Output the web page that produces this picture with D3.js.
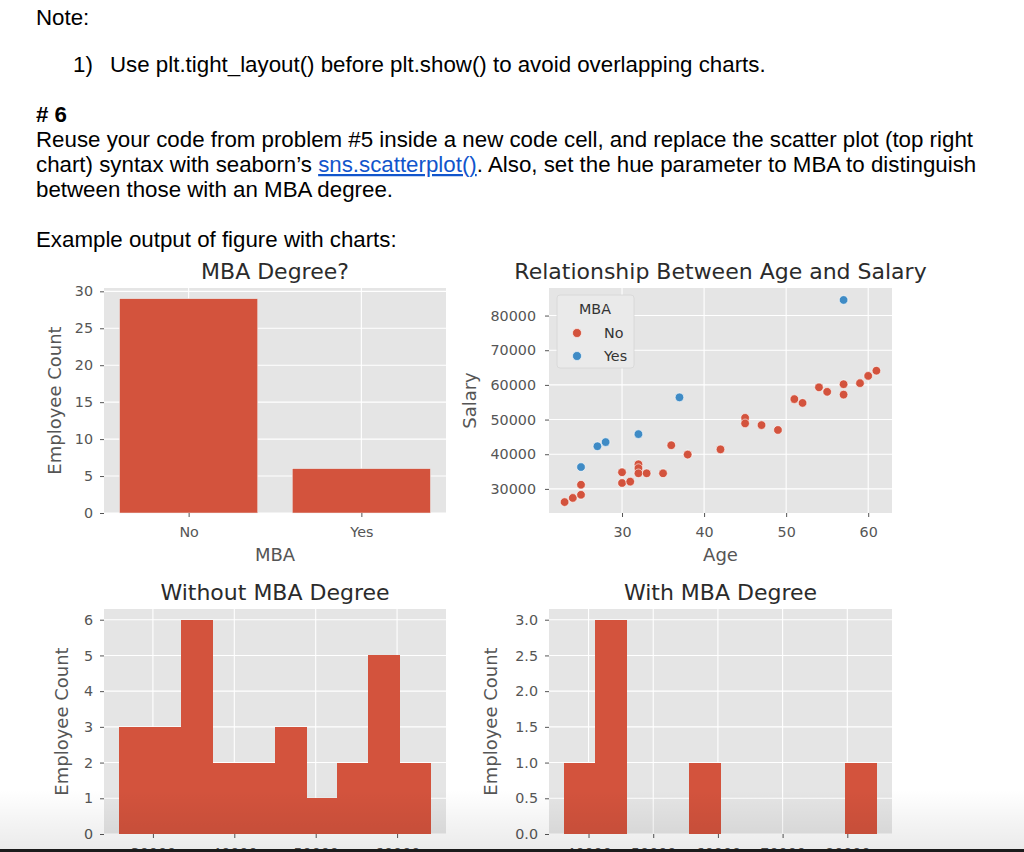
<!DOCTYPE html>
<html>
<head>
<meta charset="utf-8">
<script src="https://cdn.jsdelivr.net/npm/d3@7"></script>
<style>
  html,body{margin:0;padding:0;background:#fff;}
  svg{display:block;}
</style>
</head>
<body>
<svg id="fig" width="1024" height="852"></svg>
<script>
// ---------------- DATA ----------------
const mbaCategories = ["No", "Yes"];
const mbaCounts = [29, 6];

const ageNo    = [23, 24, 25, 25, 30, 30, 31, 32, 32, 32, 33, 35, 36, 38, 38, 42, 45, 45, 47, 49, 51, 52, 54, 55, 57, 57, 59, 60, 61];
const salaryNo = [26200, 27400, 28300, 31200, 34800, 31700, 32100, 37100, 36000, 34500, 34500, 34500, 42600, 40000, 39900, 41400, 50500, 48900, 48400, 47000, 55900, 54800, 59300, 58000, 60200, 57200, 60500, 62600, 64100];
const ageYes    = [25, 27, 28, 32, 37, 57];
const salaryYes = [36300, 42300, 43500, 45800, 56400, 84500];

const noBinEdges  = [25900, 29720, 33540, 37360, 41180, 45000, 48820, 52640, 56460, 60280, 64100];
const noBinCounts = [3, 3, 6, 2, 2, 3, 1, 2, 5, 2];
const yesBinEdges  = [36300, 41120, 45940, 50760, 55580, 60400, 65220, 70040, 74860, 79680, 84500];
const yesBinCounts = [1, 3, 0, 0, 1, 0, 0, 0, 0, 1];

const barYTicks = [0, 5, 10, 15, 20, 25, 30];
const ageTicks = [30, 40, 50, 60];
const salaryTicks = [30000, 40000, 50000, 60000, 70000, 80000];
const noHistXTicks = [30000, 40000, 50000, 60000];
const noHistYTicks = [0, 1, 2, 3, 4, 5, 6];
const yesHistXTicks = [40000, 50000, 60000, 70000, 80000];
const yesHistYTicks = [0, 0.5, 1.0, 1.5, 2.0, 2.5, 3.0];

// ---------------- STYLE ----------------
const RED = "#d3533d", BLUE = "#3f8bc5", BG = "#e5e5e5", TICKC = "#555", TITLEC = "#2b2b2b";
const CF = "DejaVu Sans, sans-serif";
const PF = "Liberation Sans, Arial, sans-serif";

const svg = d3.select("#fig");

// ---------------- PAGE TEXT ----------------
const page = svg.append("g").attr("font-family", PF).attr("font-size", 22.3).attr("fill", "#000");
page.append("text").attr("x", 36).attr("y", 25).text("Note:");
page.append("text").attr("x", 73).attr("y", 72).text("1)");
page.append("text").attr("x", 110).attr("y", 72).text("Use plt.tight_layout() before plt.show() to avoid overlapping charts.");
page.append("text").attr("x", 36).attr("y", 122).attr("font-weight", "bold").text("# 6");
page.append("text").attr("x", 36).attr("y", 147).text("Reuse your code from problem #5 inside a new code cell, and replace the scatter plot (top right");
const l2 = page.append("text").attr("x", 36).attr("y", 172);
l2.append("tspan").text("chart) syntax with seaborn\u2019s ");
l2.append("tspan").attr("fill", "#1155cc").attr("text-decoration", "underline").text("sns.scatterplot()");
l2.append("tspan").text(". Also, set the hue parameter to MBA to distinguish");
page.append("text").attr("x", 36).attr("y", 197).text("between those with an MBA degree.");
page.append("text").attr("x", 36).attr("y", 247).text("Example output of figure with charts:");

// ---------------- AXES HELPER ----------------
function frame(g, xs, ys, o) {
  const [x0, x1] = xs.range(), [y0, y1] = ys.range();
  g.append("rect").attr("x", x0).attr("y", y1).attr("width", x1 - x0).attr("height", y0 - y1).attr("fill", BG);
  g.append("g").selectAll("line").data(o.xTicks).join("line")
    .attr("x1", d => xs(d)).attr("x2", d => xs(d)).attr("y1", y1).attr("y2", y0)
    .attr("stroke", "#fff").attr("stroke-width", 1.1);
  g.append("g").selectAll("line").data(o.yTicks).join("line")
    .attr("y1", d => ys(d)).attr("y2", d => ys(d)).attr("x1", x0).attr("x2", x1)
    .attr("stroke", "#fff").attr("stroke-width", 1.1);
}
function axes(g, xs, ys, o) {
  const [x0, x1] = xs.range(), [y0, y1] = ys.range();
  const ax = g.append("g").attr("transform", `translate(0,${y0})`)
    .call(d3.axisBottom(xs).tickValues(o.xTicks).tickFormat(o.xFmt).tickSize(4).tickPadding(9.5));
  const ay = g.append("g").attr("transform", `translate(${x0},0)`)
    .call(d3.axisLeft(ys).tickValues(o.yTicks).tickFormat(o.yFmt).tickSize(4).tickPadding(o.yPad || 7));
  [ax, ay].forEach(a => {
    a.select(".domain").remove();
    a.selectAll(".tick line").attr("stroke", TICKC).attr("stroke-width", 1);
    a.selectAll(".tick text").attr("fill", TICKC).attr("font-family", CF).attr("font-size", 14.3);
  });
  g.append("text").attr("x", (x0 + x1) / 2).attr("y", y1 - 9).attr("text-anchor", "middle")
    .attr("font-family", CF).attr("font-size", 22).attr("fill", TITLEC).text(o.title);
  if (o.xLabel) g.append("text").attr("x", (x0 + x1) / 2).attr("y", y0 + 48).attr("text-anchor", "middle")
    .attr("font-family", CF).attr("font-size", 18).attr("fill", TICKC).text(o.xLabel);
  if (o.yLabel) g.append("text").attr("transform", `translate(${o.yLabelX},${(y0 + y1) / 2}) rotate(-90)`)
    .attr("text-anchor", "middle").attr("font-family", CF).attr("font-size", 18).attr("fill", TICKC).text(o.yLabel);
}

// ---------------- TOP LEFT: BAR ----------------
{
  const g = svg.append("g");
  const xs = d3.scaleLinear().domain([-0.49, 1.49]).range([104, 446]);
  const ys = d3.scaleLinear().domain([0, 30.45]).range([513, 288]);
  const idx = mbaCategories.map((c, i) => i);
  frame(g, xs, ys, { xTicks: idx, yTicks: barYTicks });
  g.append("g").selectAll("rect").data(mbaCounts).join("rect")
    .attr("x", (d, i) => xs(i - 0.4)).attr("width", xs(0.4) - xs(-0.4))
    .attr("y", d => ys(d)).attr("height", d => ys(0) - ys(d))
    .attr("fill", RED).attr("stroke", "#eeeeee").attr("stroke-width", 0.5);
  axes(g, xs, ys, { xTicks: idx, xFmt: i => mbaCategories[i], yTicks: barYTicks, yFmt: d3.format("d"),
    title: "MBA Degree?", xLabel: "MBA", yLabel: "Employee Count", yLabelX: 61 });
}

// ---------------- TOP RIGHT: SCATTER ----------------
{
  const g = svg.append("g");
  const xs = d3.scaleLinear().domain([21.1, 62.9]).range([549, 892]);
  const ys = d3.scaleLinear().domain([23050, 87950]).range([513, 288]);
  frame(g, xs, ys, { xTicks: ageTicks, yTicks: salaryTicks });
  const pts = ageNo.map((a, i) => ({ a, s: salaryNo[i], c: RED }))
    .concat(ageYes.map((a, i) => ({ a, s: salaryYes[i], c: BLUE })));
  g.append("g").selectAll("circle").data(pts).join("circle")
    .attr("cx", d => xs(d.a)).attr("cy", d => ys(d.s)).attr("r", 4.3)
    .attr("fill", d => d.c).attr("stroke", "#fff").attr("stroke-width", 0.6);
  axes(g, xs, ys, { xTicks: ageTicks, xFmt: d3.format("d"), yTicks: salaryTicks, yFmt: d3.format("d"), yPad: 9,
    title: "Relationship Between Age and Salary", xLabel: "Age", yLabel: "Salary", yLabelX: 476 });
  const lg = g.append("g");
  lg.append("rect").attr("x", 557).attr("y", 295).attr("width", 77).attr("height", 73).attr("rx", 3)
    .attr("fill", "#eaeaea").attr("stroke", "#d6d6d6").attr("stroke-width", 0.8);
  lg.append("text").attr("x", 595).attr("y", 314).attr("text-anchor", "middle").attr("font-family", CF)
    .attr("font-size", 14.3).attr("fill", "#333").text("MBA");
  [{ l: "No", c: RED }, { l: "Yes", c: BLUE }].forEach((d, i) => {
    lg.append("circle").attr("cx", 577).attr("cy", 333 + i * 23).attr("r", 4.5).attr("fill", d.c)
      .attr("stroke", "#fff").attr("stroke-width", 0.6);
    lg.append("text").attr("x", 604).attr("y", 338 + i * 23).attr("font-family", CF).attr("font-size", 14.3)
      .attr("fill", "#333").text(d.l);
  });
}

// ---------------- HIST HELPER ----------------
function hist(xr, edges, counts, xDom, yDom, xTicks, yTicks, yFmt, title, yLabelX, yPad) {
  const g = svg.append("g");
  const xs = d3.scaleLinear().domain(xDom).range(xr);
  const ys = d3.scaleLinear().domain(yDom).range([834, 609]);
  frame(g, xs, ys, { xTicks, yTicks });
  const bins = counts.map((c, i) => ({ x0: edges[i], x1: edges[i + 1], c }));
  g.append("g").attr("shape-rendering", "crispEdges").selectAll("rect").data(bins.filter(b => b.c > 0)).join("rect")
    .attr("x", d => Math.floor(xs(d.x0))).attr("width", d => Math.ceil(xs(d.x1)) - Math.floor(xs(d.x0)))
    .attr("y", d => ys(d.c)).attr("height", d => ys(0) - ys(d.c))
    .attr("fill", RED);
  axes(g, xs, ys, { xTicks, xFmt: d3.format("d"), yTicks, yFmt, yPad,
    title, yLabel: "Employee Count", yLabelX });
}
hist([104, 446], noBinEdges, noBinCounts, [23990, 66010], [0, 6.3], noHistXTicks, noHistYTicks, d3.format("d"), "Without MBA Degree", 68, 7);
hist([549, 892], yesBinEdges, yesBinCounts, [33890, 86910], [0, 3.15], yesHistXTicks, yesHistYTicks, d3.format(".1f"), "With MBA Degree", 497, 7);

// ---------------- BOTTOM FADE + EDGE ----------------
const defs = svg.append("defs");
const grad = defs.append("linearGradient").attr("id", "fade").attr("x1", 0).attr("y1", 0).attr("x2", 0).attr("y2", 1);
grad.append("stop").attr("offset", 0).attr("stop-color", "#000").attr("stop-opacity", 0);
grad.append("stop").attr("offset", 1).attr("stop-color", "#000").attr("stop-opacity", 0.08);
svg.append("rect").attr("x", 0).attr("y", 790).attr("width", 1024).attr("height", 59).attr("fill", "url(#fade)");
svg.append("rect").attr("x", 0).attr("y", 849).attr("width", 1024).attr("height", 3).attr("fill", "#1b1b1b");
</script>
</body>
</html>
